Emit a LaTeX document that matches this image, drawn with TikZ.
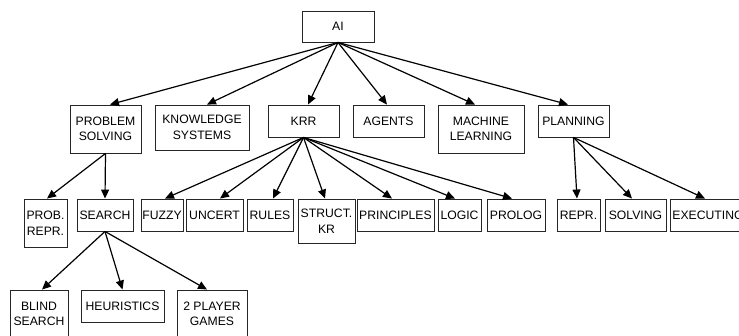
\documentclass[tikz,border=0pt]{standalone}
\usepackage{fontspec}
\setmainfont{Liberation Sans}
\usetikzlibrary{arrows.meta}
\begin{document}
\begin{tikzpicture}[x=1pt,y=-1pt,
  box/.style={draw=black!85,line width=0.9pt,inner sep=0pt,align=center,
    font=\fontsize{12.2}{15.5}\selectfont,minimum height=32pt},
  tall/.style={minimum height=48pt},
  arr/.style={line width=1.2pt,-{Triangle[length=9pt,width=8pt]}}]
\useasboundingbox (0,0) rectangle (739,336);
\clip (0,0) rectangle (739,336);
% level 0
\node[box,minimum width=72pt,minimum height=31pt] (ai) at (338,26.5) {AI};
% level 1
\node[box,tall,minimum width=71pt] (ps) at (105.5,129) {PROBLEM\\SOLVING};
\node[box,minimum width=94pt,minimum height=45pt] (ks) at (202,127.5) {KNOWLEDGE\\SYSTEMS};
\node[box,minimum width=71pt] (krr) at (303.5,121) {KRR};
\node[box,minimum width=71pt] (ag) at (388.5,121) {AGENTS};
\node[box,tall,minimum width=86pt] (ml) at (481,129) {MACHINE\\LEARNING};
\node[box,minimum width=71pt] (pl) at (573.5,121) {PLANNING};
% level 2
\node[box,tall,minimum width=43pt] (pr) at (45.5,223) {PROB.\\REPR.};
\node[box,minimum width=56pt] (se) at (105,215) {SEARCH};
\node[box,minimum width=42pt] (fu) at (162,215) {FUZZY};
\node[box,minimum width=57pt] (un) at (214.5,215) {UNCERT};
\node[box,minimum width=46pt] (ru) at (270,215) {RULES};
\node[box,minimum width=57pt,minimum height=44pt] (st) at (326.5,221) {STRUCT.\\KR};
\node[box,minimum width=77pt] (pri) at (395.5,215) {PRINCIPLES};
\node[box,minimum width=43pt] (lo) at (459.5,215) {LOGIC};
\node[box,minimum width=58pt] (pro) at (516,215) {PROLOG};
\node[box,minimum width=43pt] (re) at (578.5,215) {REPR.};
\node[box,minimum width=61pt] (so) at (635.5,215) {SOLVING};
\node[box,minimum width=76pt] (ex) at (708,215) {EXECUTING};
% level 3
\node[box,tall,minimum width=58pt] (bl) at (39,314) {BLIND\\SEARCH};
\node[box,minimum width=83pt] (he) at (122.5,306) {HEURISTICS};
\node[box,tall,minimum width=70pt] (tp) at (212,314) {2 PLAYER\\GAMES};
% arrows
\draw[arr] (ai.south) -- ([xshift=4.5pt]ps.north);
\draw[arr] (ai.south) -- ([xshift=5pt]ks.north);
\draw[arr] (ai.south) -- ([xshift=4.5pt]krr.north);
\draw[arr] (ai.south) -- ([xshift=-1.5pt]ag.north);
\draw[arr] (ai.south) -- ([xshift=-6pt]ml.north);
\draw[arr] (ai.south) -- ([xshift=-5.5pt]pl.north);
\draw[arr] (ps.south) -- ([xshift=1.5pt]pr.north);
\draw[arr] (ps.south) -- (se.north);
\draw[arr] (se.south) -- ([xshift=3pt]bl.north);
\draw[arr] (se.south) -- (he.north);
\draw[arr] (se.south) -- ([xshift=-5pt]tp.north);
\draw[arr] (krr.south) -- ([xshift=3pt]fu.north);
\draw[arr] (krr.south) -- ([xshift=5.5pt]un.north);
\draw[arr] (krr.south) -- ([xshift=3pt]ru.north);
\draw[arr] (krr.south) -- ([xshift=-1.5pt]st.north);
\draw[arr] (krr.south) -- ([xshift=-3.5pt]pri.north);
\draw[arr] (krr.south) -- ([xshift=-4.5pt]lo.north);
\draw[arr] (krr.south) -- ([xshift=-4pt]pro.north);
\draw[arr] (pl.south) -- ([xshift=-1.5pt]re.north);
\draw[arr] (pl.south) -- ([xshift=-3.5pt]so.north);
\draw[arr] (pl.south) -- ([xshift=-3pt]ex.north);
\end{tikzpicture}
\end{document}
